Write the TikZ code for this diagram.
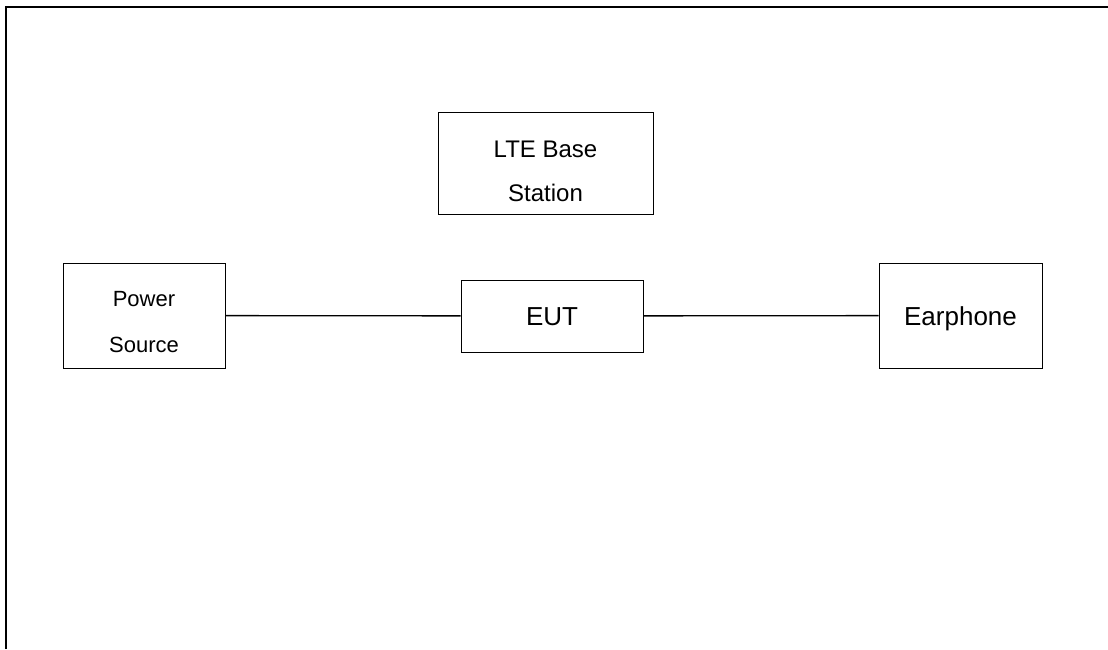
\documentclass[tikz,border=0pt]{standalone}
\usepackage{fontspec}
\setmainfont{Liberation Sans}
\begin{document}
\begin{tikzpicture}[x=1pt,y=-1pt]
\tikzstyle{unit}=[draw,line width=1pt,inner sep=0pt,align=center]
\tikzstyle{small}=[unit,font=\fontsize{22}{46}\selectfont]
\tikzstyle{mid}=[unit,font=\fontsize{24}{44}\selectfont]
\tikzstyle{large}=[unit,font=\fontsize{26}{30}\selectfont,text height=19pt,text depth=0pt]
\tikzstyle{cable}=[line width=1.3pt]
\useasboundingbox (0,0) rectangle (1108,649);
\draw[line width=2pt] (6,649) -- (6,7) -- (1108,7);
\node[mid,minimum width=215,minimum height=102] (lte) at (545.5,163) {\rule{0pt}{34pt}LTE Base\\Station};
\node[small,minimum width=162,minimum height=105] (power) at (144,315.5) {\rule{0pt}{28pt}Power\\Source};
\node[large,minimum width=182,minimum height=72] (eut) at (552,316) {EUT};
\node[large,minimum width=163,minimum height=105] (ear) at (960.5,315.5) {Earphone};
\draw[cable] (power) -- (eut);
\draw[cable] (eut) -- (ear);
\end{tikzpicture}
\end{document}
